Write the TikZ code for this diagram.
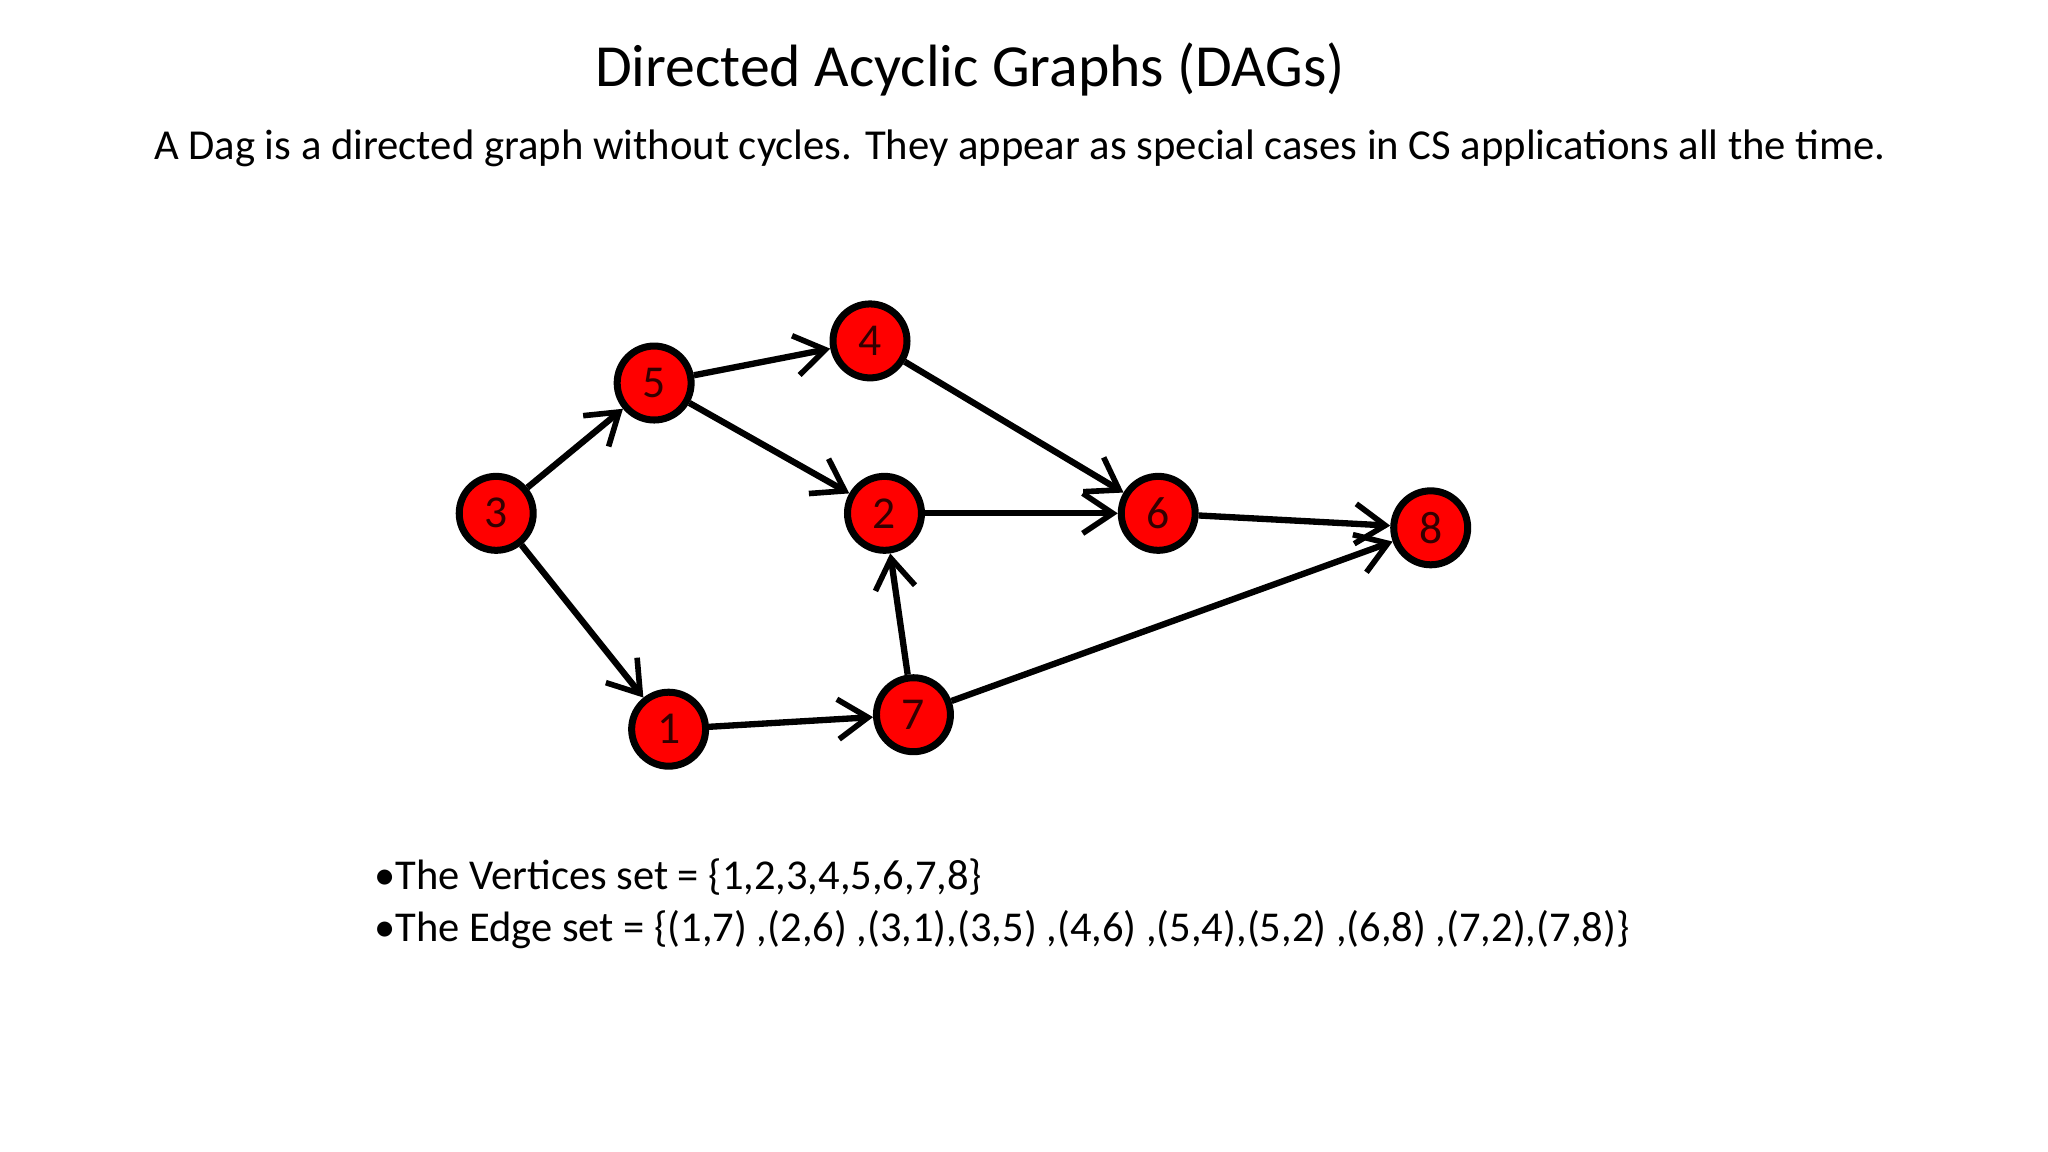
\documentclass[tikz,border=0pt]{standalone}
\usepackage{fontspec}
\setmainfont{Carlito}
\usetikzlibrary{arrows.meta}
\begin{document}
\begin{tikzpicture}[x=0.013162cm,y=-0.013162cm,
  vtx/.style={circle,draw=black,line width=2pt,fill=red,minimum size=0.74cm,inner sep=0pt,font=\fontsize{13}{13}\selectfont,text=black!80!red},
  arr/.style={-{Straight Barb[length=3mm,width=4mm,line width=1.6pt]},line width=1.8pt}]
\useasboundingbox (0,0) rectangle (1556,875);
\node (title) at (737,53) {\fontsize{17}{20}\selectfont Directed Acyclic Graphs (DAGs)};
\node (sub) at (775,113) {\fontsize{12.15}{15}\selectfont A Dag is a directed graph without cycles. They appear as special cases in CS applications all the time.};
\node (n3) [vtx] at (377,390) {3};
\node (n5) [vtx] at (497,291) {5};
\node (n4) [vtx] at (661,259) {4};
\node (n2) [vtx] at (672,390) {2};
\node (n6) [vtx] at (880,390) {6};
\node (n8) [vtx] at (1087,401) {8};
\node (n1) [vtx] at (508,554) {1};
\node (n7) [vtx] at (694,543) {7};
\draw[arr] (n3) -- (n5);
\draw[arr] (n3) -- (n1);
\draw[arr] (n5) -- (n4);
\draw[arr] (n5) -- (n2);
\draw[arr] (n4) -- (n6);
\draw[arr] (n2) -- (n6);
\draw[arr] (n6) -- (n8);
\draw[arr] (n1) -- (n7);
\draw[arr] (n7) -- (n2);
\draw[arr] (n7) -- (n8);
\node (l1) [anchor=west,inner sep=0pt] at (284,666) {\fontsize{12.1}{15}\selectfont •The Vertices set = \{1,2,3,4,5,6,7,8\}};
\node (l2) [anchor=west,inner sep=0pt] at (284,706) {\fontsize{12.1}{15}\selectfont •The Edge set = \{(1,7) ,(2,6) ,(3,1),(3,5) ,(4,6) ,(5,4),(5,2) ,(6,8) ,(7,2),(7,8)\}};
\end{tikzpicture}
\end{document}
